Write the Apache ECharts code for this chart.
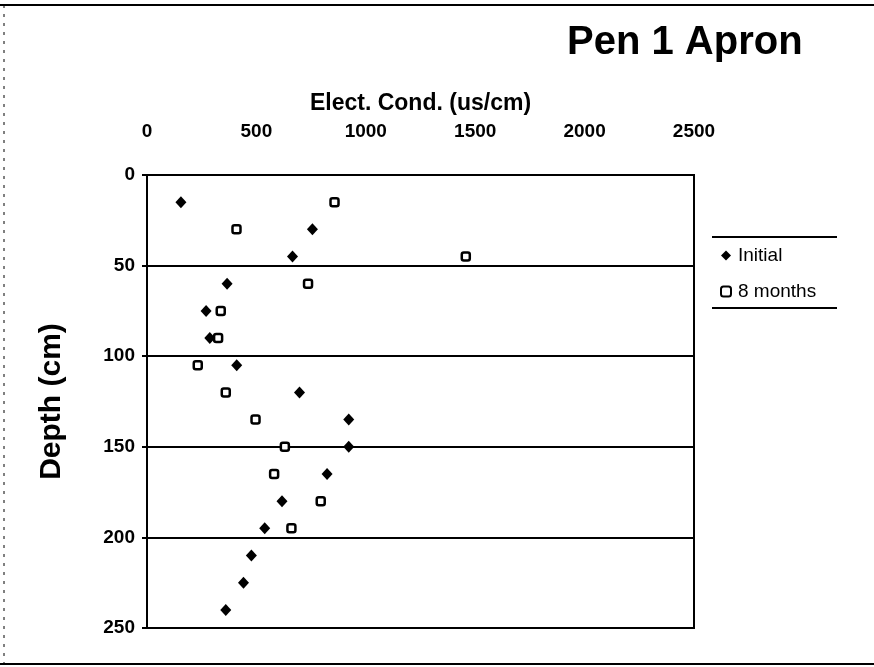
<!DOCTYPE html>
<html>
<head>
<meta charset="utf-8">
<script src="https://cdn.jsdelivr.net/npm/echarts@6/dist/echarts.min.js"></script>
<style>
  html, body { margin: 0; padding: 0; background: #fff; }
  #chart { width: 874px; height: 667px; }
</style>
</head>
<body>
<div id="chart"></div>
<script>
// depth in cm, conductivity in us/cm
const initialDepth = [15, 30, 45, 60, 75, 90, 105, 120, 135, 150, 165, 180, 195, 210, 225, 240];
const initialEC = [155, 756, 665, 366, 270, 287, 410, 697, 922, 922, 823, 617, 538, 477, 441, 360];
const monthsDepth = [15, 30, 45, 60, 75, 90, 105, 120, 135, 150, 165, 180, 195];
const monthsEC = [857, 409, 1457, 736, 337, 325, 232, 360, 496, 630, 581, 794, 660];
const xTicks = [0, 500, 1000, 1500, 2000, 2500];
const yTicks = [0, 50, 100, 150, 200, 250];

const font = "'Liberation Sans', Arial, sans-serif";

const chart = echarts.init(document.getElementById('chart'));

const option = {
    backgroundColor: '#fff',
    animation: false,
    title: {
        text: 'Pen 1 Apron',
        left: 562,
        top: 18,
        textStyle: { fontFamily: font, fontSize: 40, fontWeight: 'bold', color: '#000' }
    },
    legend: {
        orient: 'vertical',
        left: 715,
        top: 241,
        itemGap: 17,
        itemWidth: 10,
        itemHeight: 10,
        textStyle: { fontFamily: font, fontSize: 19, color: '#000', padding: [0, 0, 0, 2] },
        data: ['Initial', '8 months']
    },
    grid: {
        left: 147,
        right: 180,
        top: 175,
        bottom: 39,
        show: true,
        borderColor: '#000',
        borderWidth: 2
    },
    xAxis: {
        type: 'value',
        position: 'top',
        min: xTicks[0],
        max: xTicks[xTicks.length - 1],
        interval: 500,
        name: 'Elect. Cond. (us/cm)',
        nameLocation: 'middle',
        nameGap: 60,
        nameTextStyle: { fontFamily: font, fontSize: 23, fontWeight: 'bold', color: '#000' },
        axisLine: { show: true, lineStyle: { color: '#000', width: 2 } },
        axisTick: { show: false },
        axisLabel: { margin: 34, fontFamily: font, fontSize: 19, fontWeight: 'bold', color: '#000', formatter: v => String(v) },
        splitLine: { show: false }
    },
    yAxis: {
        type: 'value',
        inverse: true,
        min: yTicks[0],
        max: yTicks[yTicks.length - 1],
        interval: 50,
        name: 'Depth (cm)',
        nameLocation: 'middle',
        nameGap: 80,
        nameRotate: 90,
        nameTextStyle: { fontFamily: font, fontSize: 30, fontWeight: 'bold', color: '#000' },
        axisLine: { show: true, lineStyle: { color: '#000', width: 2 } },
        axisTick: { show: true, inside: false, length: 5, lineStyle: { color: '#000', width: 2 } },
        axisLabel: { margin: 12, fontFamily: font, fontSize: 19, fontWeight: 'bold', color: '#000' },
        splitLine: { show: true, lineStyle: { color: '#000', width: 2 } }
    },
    series: [
        {
            name: 'Initial',
            type: 'scatter',
            symbol: 'diamond',
            symbolSize: [11, 12],
            itemStyle: { color: '#000', opacity: 1 },
            data: initialEC.map((v, i) => [v, initialDepth[i]])
        },
        {
            name: '8 months',
            type: 'scatter',
            symbol: 'roundRect',
            symbolSize: 8,
            itemStyle: { color: '#fff', borderColor: '#000', borderWidth: 2.5, opacity: 1 },
            data: monthsEC.map((v, i) => [v, monthsDepth[i]])
        }
    ],
    graphic: [
        // scanned page frame
        { type: 'line', shape: { x1: 0, y1: 5, x2: 874, y2: 5 }, style: { stroke: '#000', lineWidth: 2 } },
        { type: 'line', shape: { x1: 0, y1: 664, x2: 874, y2: 664 }, style: { stroke: '#000', lineWidth: 2 } },
        { type: 'line', shape: { x1: 4, y1: 5, x2: 4, y2: 664 }, style: { stroke: '#000', lineWidth: 1, lineDash: [3, 6] } },
        // legend rules
        { type: 'line', shape: { x1: 712, y1: 237, x2: 837, y2: 237 }, style: { stroke: '#000', lineWidth: 2 } },
        { type: 'line', shape: { x1: 712, y1: 308, x2: 837, y2: 308 }, style: { stroke: '#000', lineWidth: 2 } }
    ]
};

chart.setOption(option);
</script>
</body>
</html>
